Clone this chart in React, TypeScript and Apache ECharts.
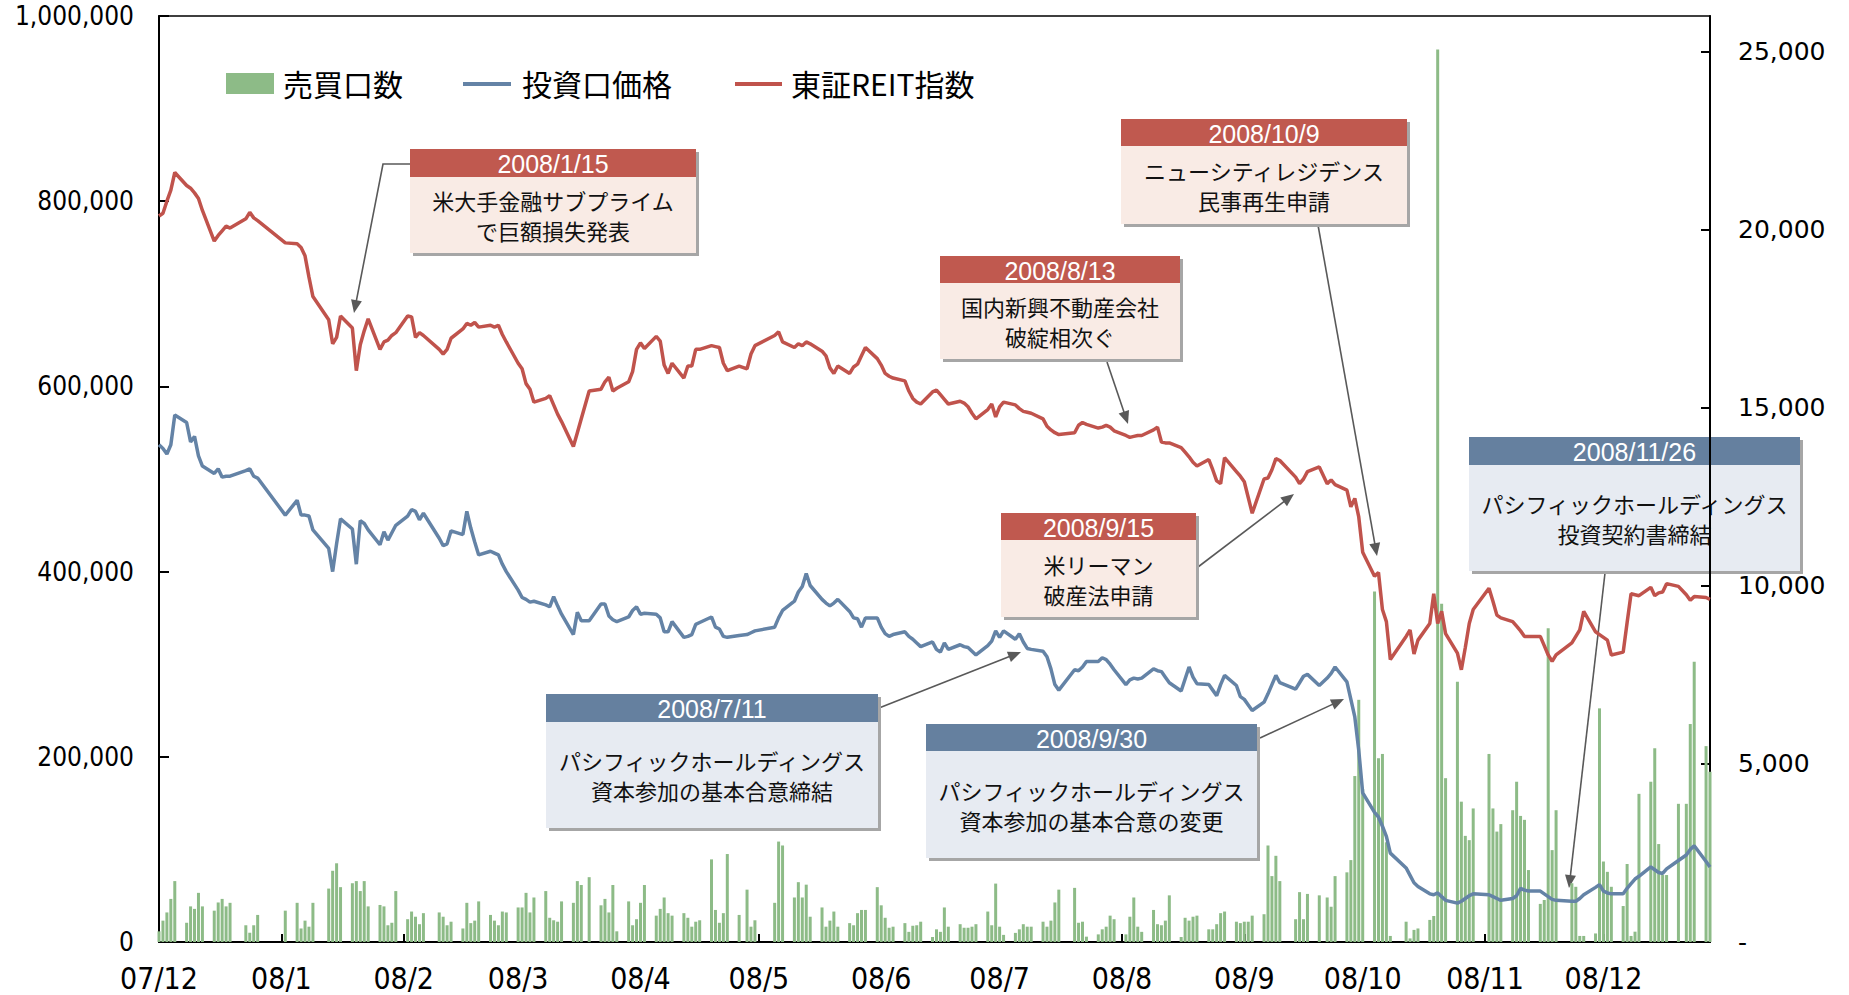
import React, { useEffect, useRef } from "react";
import * as echarts from "echarts";

// ---- trading days (TSE), per month: [year, monthIndex, days] ----
const tradingDays: [number, number, number[]][] = [
  [2007, 11, [3, 4, 5, 6, 7, 10, 11, 12, 13, 14, 17, 18, 19, 20, 21, 25, 26, 27, 28]],
  [2008, 0, [4, 7, 8, 9, 10, 11, 15, 16, 17, 18, 21, 22, 23, 24, 25, 28, 29, 30, 31]],
  [2008, 1, [1, 4, 5, 6, 7, 8, 12, 13, 14, 15, 18, 19, 20, 21, 22, 25, 26, 27, 28, 29]],
  [2008, 2, [3, 4, 5, 6, 7, 10, 11, 12, 13, 14, 17, 18, 19, 21, 24, 25, 26, 27, 28, 31]],
  [2008, 3, [1, 2, 3, 4, 7, 8, 9, 10, 11, 14, 15, 16, 17, 18, 21, 22, 23, 24, 25, 28, 30]],
  [2008, 4, [1, 2, 7, 8, 9, 12, 13, 14, 15, 16, 19, 20, 21, 22, 23, 26, 27, 28, 29, 30]],
  [2008, 5, [2, 3, 4, 5, 6, 9, 10, 11, 12, 13, 16, 17, 18, 19, 20, 23, 24, 25, 26, 27, 30]],
  [2008, 6, [1, 2, 3, 4, 7, 8, 9, 10, 11, 14, 15, 16, 17, 18, 22, 23, 24, 25, 28, 29, 30, 31]],
  [2008, 7, [1, 4, 5, 6, 7, 8, 11, 12, 13, 14, 15, 18, 19, 20, 21, 22, 25, 26, 27, 28, 29]],
  [2008, 8, [1, 2, 3, 4, 5, 8, 9, 10, 11, 12, 16, 17, 18, 19, 22, 24, 25, 26, 29, 30]],
  [2008, 9, [1, 2, 3, 6, 7, 8, 9, 10, 14, 15, 16, 17, 20, 21, 22, 23, 24, 27, 28, 29, 30, 31]],
  [2008, 10, [4, 5, 6, 7, 10, 11, 12, 13, 14, 17, 18, 19, 20, 21, 25, 26, 27, 28]],
  [2008, 11, [1, 2, 3, 4, 5, 8, 9, 10, 11, 12, 15, 16, 17, 18, 19, 22, 24, 25, 26, 29, 30]],
];

// month tick positions (Excel date axis: a tick every month from the 3rd)
const monthTicks: [number, number][] = [
  [2007, 11], [2008, 0], [2008, 1], [2008, 2], [2008, 3], [2008, 4], [2008, 5],
  [2008, 6], [2008, 7], [2008, 8], [2008, 9], [2008, 10], [2008, 11],
];

// 投資口価格 (千円)
const price: number[] = [
  537, 533, 527, 537, 569, 561, 540, 546, 525, 514, 506, 511, 502, 503, 503, 509, 511, 503, 501,
  461, 477, 461, 461, 460, 445, 425, 400, 430, 457, 446, 408, 455, 452, 445, 429, 443, 434, 442,
  450, 460, 467, 465, 456, 463, 436, 428, 430, 444, 440, 465, 447, 432, 418, 422, 420, 418, 408, 400,
  380, 372, 370, 367, 368, 364, 362, 373, 363, 354, 332, 356, 347, 347, 365, 365, 352, 348, 346, 351,
  358, 362, 354, 355, 354, 350, 335, 335, 346, 329, 330, 332, 343, 345, 351, 340, 338, 330, 329, 331, 332,
  334, 336, 340, 350, 358, 368, 378, 384, 398, 385, 370, 366, 363, 366, 370, 357, 350, 349, 340, 350,
  350, 340, 333, 330, 332, 335, 330, 327, 323, 319, 324, 316, 313, 323, 316, 321, 319, 318, 314, 310, 320,
  325, 336, 329, 336, 327, 333, 324, 317, 316, 314, 308, 295, 278, 272, 294, 293, 297, 303, 303, 307, 305, 300,
  294, 278, 283, 285, 284, 285, 295, 293, 292, 286, 280, 271, 284, 297, 286, 279, 278, 272, 266, 278, 288,
  277, 265, 262, 256, 250, 259, 268, 278, 288, 280, 273, 280, 287, 289, 277, 285, 290, 297, 281, 262,
  243, 207, 161, 140, 135, 125, 114, 96, 80, 72, 64, 60, 52, 51, 53, 49, 45, 42, 44, 47, 50, 52,
  51, 49, 47, 45, 47, 50, 58, 56, 55, 55, 52, 49, 46, 45, 44, 44, 47, 51,
  59, 62, 55, 53, 52, 52, 58, 63, 68, 71, 81, 78, 75, 74, 79, 88, 94, 100, 104, 87, 81,
];

// 東証REIT指数 (drawn on the left scale, 千)
const reit: number[] = [
  784, 787, 800, 812, 831, 817, 814, 809, 803, 790, 757, 763, 768, 773, 771, 781, 788, 782, 779,
  755, 754, 750, 741, 718, 697, 672, 646, 653, 676, 663, 617, 645, 660, 673, 640, 648, 650, 655,
  658, 676, 675, 653, 658, 655, 640, 635, 640, 652, 662, 668, 666, 669, 664, 666, 664, 666, 656, 648,
  625, 619, 603, 597, 583, 587, 590, 580, 570, 562, 535, 550, 565, 595, 597, 605, 610, 595, 598, 605,
  616, 640, 647, 641, 654, 649, 623, 614, 625, 609, 622, 622, 640, 640, 644, 643, 642, 625, 617, 622, 619,
  635, 644, 655, 659, 648, 642, 646, 644, 648, 646, 638, 633, 620, 614, 622, 614, 621, 624, 633, 642,
  630, 623, 614, 611, 609, 606, 595, 587, 583, 581, 594, 596, 591, 586, 581, 584, 582, 578, 571, 565, 575,
  581, 567, 578, 583, 580, 576, 573, 572, 571, 565, 557, 553, 550, 548, 550, 558, 561, 559, 555, 556, 558, 556,
  552, 547, 545, 546, 547, 547, 553, 556, 540, 539, 539, 534, 529, 524, 518, 514, 521, 510, 498, 495, 523,
  508, 503, 497, 480, 463, 500, 501, 510, 522, 520, 502, 495, 500, 508, 513, 495, 499, 494, 488, 470,
  479, 459, 421, 395, 399, 359, 346, 305, 330, 337, 311, 326, 344, 376, 344, 357, 333, 312, 294, 318, 344, 359,
  382, 368, 353, 350, 346, 341, 336, 330, 330, 330, 320, 310, 303, 310, 323, 330, 337, 357,
  335, 332, 329, 326, 310, 313, 345, 376, 375, 374, 383, 374, 377, 378, 387, 384, 375, 369, 373, 372, 370,
];

// 売買口数 (口)
const volume: number[] = [
  300, 600, 830, 1210, 1710, 540, 1000, 930, 1380, 1000, 880, 1110, 1210, 1000, 1100, 470, 260, 470, 760,
  880, 1100, 380, 600, 430, 1100, 1500, 2000, 2210, 1540, 1650, 1710, 1430, 1710, 1000, 1040, 1000, 470, 540,
  1430, 640, 855, 710, 500, 810, 830, 710, 470, 570, 380, 1100, 530, 600, 1140, 760, 600, 470, 855, 830,
  970, 970, 1380, 830, 1250, 1430, 680, 610, 570, 1140, 1100, 1710, 1600, 1820, 1030, 1210, 830, 1600, 300, 1140,
  470, 640, 1100, 1600, 740, 930, 1250, 810, 740, 810, 680, 430, 570, 610, 2320, 900, 540, 810, 2470, 760, 1470,
  430, 610, 1100, 2820, 2710, 1250, 1680, 1250, 1610, 710, 970, 430, 600, 855, 430, 530, 470, 810, 900, 900,
  1540, 1030, 680, 400, 430, 530, 285, 456, 470, 570, 140, 356, 285, 970, 430, 500, 400, 400, 430, 500, 855,
  470, 1640, 430, 200, 256, 356, 500, 430, 430, 570, 430, 600, 1110, 1470, 1520, 540, 570, 150, 214, 356, 430, 740,
  640, 214, 710, 1250, 430, 285, 900, 500, 470, 600, 1310, 140, 680, 600, 710, 740, 356, 356, 500, 810, 855,
  570, 530, 570, 570, 740, 780, 2710, 1850, 2420, 1710, 640, 1400, 640, 1350, 1310, 1250, 990, 1850, 1956, 2300,
  4660, 6800, 4300, 9840, 5160, 5280, 2800, 170, 570, 100, 340, 380, 620, 730, 25060, 9500, 4600, 7310, 3940, 2980, 2860, 3750,
  5280, 3750, 3100, 3310, 3700, 4500, 3540, 3430, 2020, 1070, 1180, 8810, 2580, 3700, 1650, 1550, 170, 170,
  240, 6560, 2260, 1970, 1550, 1010, 2190, 170, 290, 4160, 4500, 5440, 2750, 1880, 1880, 3880, 3880, 6120, 7870, 5500, 4780,
];

const legendNames = ["売買口数", "投資口価格", "東証REIT指数"];

type Note = { date: string; lines: string[]; kind: "red" | "blue"; x: number; y: number; w: number; hh: number; bh: number };
const notes: Note[] = [
  { date: "2008/1/15", lines: ["米大手金融サブプライム", "で巨額損失発表"], kind: "red", x: 410, y: 149, w: 286, hh: 28, bh: 76 },
  { date: "2008/10/9", lines: ["ニューシティレジデンス", "民事再生申請"], kind: "red", x: 1121, y: 119, w: 286, hh: 27, bh: 78 },
  { date: "2008/8/13", lines: ["国内新興不動産会社", "破綻相次ぐ"], kind: "red", x: 940, y: 256, w: 240, hh: 27, bh: 76 },
  { date: "2008/9/15", lines: ["米リーマン", "破産法申請"], kind: "red", x: 1001, y: 513, w: 195, hh: 27, bh: 77 },
  { date: "2008/11/26", lines: ["パシフィックホールディングス", "投資契約書締結"], kind: "blue", x: 1469, y: 437, w: 331, hh: 28, bh: 106 },
  { date: "2008/7/11", lines: ["パシフィックホールディングス", "資本参加の基本合意締結"], kind: "blue", x: 546, y: 694, w: 332, hh: 28, bh: 106 },
  { date: "2008/9/30", lines: ["パシフィックホールディングス", "資本参加の基本合意の変更"], kind: "blue", x: 926, y: 724, w: 331, hh: 27, bh: 107 },
];
const arrows: number[][][] = [
  [[410, 164], [383, 164], [354, 313]],
  [[1318, 225], [1377, 556]],
  [[1107, 362], [1128, 424]],
  [[1198, 567], [1294, 494]],
  [[1605, 573], [1569, 888]],
  [[879, 708], [1021, 652]],
  [[1260, 738], [1344, 699]],
];

const C_GREEN = "#8DBB87";
const C_BLUE = "#6483A6";
const C_RED = "#C0534C";
const NARROW = "'Liberation Sans Narrow', 'DejaVu Sans Condensed', 'Arial Narrow', 'Liberation Sans', sans-serif";
const JP = "'Noto Sans CJK JP', 'Noto Sans', sans-serif";
const DAY = 86400000;

function noteGraphic(n: Note) {
  const head = n.kind === "red" ? "#C0594F" : "#65809F";
  const body = n.kind === "red" ? "#F9EBE5" : "#E7EBF2";
  const H = n.hh + n.bh;
  return {
    type: "group",
    z: 100,
    children: [
      { type: "rect", shape: { x: n.x + 3, y: n.y + 3, width: n.w, height: H }, style: { fill: "#A6A6A6" } },
      { type: "rect", shape: { x: n.x, y: n.y + n.hh, width: n.w, height: n.bh }, style: { fill: body } },
      { type: "rect", shape: { x: n.x, y: n.y, width: n.w, height: n.hh }, style: { fill: head } },
      {
        type: "text",
        x: n.x + n.w / 2,
        y: n.y + n.hh / 2 + 1,
        style: { text: n.date, fill: "#fff", font: "25px 'Liberation Sans', Arial, sans-serif", align: "center", verticalAlign: "middle" },
      },
      {
        type: "text",
        x: n.x + n.w / 2,
        y: n.y + n.hh + n.bh / 2,
        style: { text: n.lines.join("\n"), fill: "#111", font: `22px ${JP}`, align: "center", verticalAlign: "middle", lineHeight: 30 },
      },
    ],
  };
}

function arrowGraphic(pts: number[][]) {
  const [x1, y1] = pts[pts.length - 2];
  const [x2, y2] = pts[pts.length - 1];
  const ang = Math.atan2(y2 - y1, x2 - x1);
  const L = 13, W = 5.5;
  const bx = x2 - L * Math.cos(ang), by = y2 - L * Math.sin(ang);
  const px = -Math.sin(ang) * W, py = Math.cos(ang) * W;
  const linePts = pts.slice(0, -1).concat([[bx + 2 * Math.cos(ang), by + 2 * Math.sin(ang)]]);
  return {
    type: "group",
    z: 99,
    children: [
      { type: "polyline", shape: { points: linePts }, style: { stroke: "#595959", lineWidth: 1.6, fill: null } },
      { type: "polygon", shape: { points: [[x2, y2], [bx + px, by + py], [bx - px, by - py]] }, style: { fill: "#595959" } },
    ],
  };
}

export default function App() {
  const ref = useRef<HTMLDivElement>(null);
  useEffect(() => {
    if (!ref.current) return;
    const chart = echarts.init(ref.current, undefined, { renderer: "svg" });
    const t0 = Date.UTC(2007, 11, 3);
    const dayOf = (y: number, m: number, d: number) => Math.round((Date.UTC(y, m, d) - t0) / DAY);
    const days: number[] = [];
    tradingDays.forEach(([y, m, ds]) => ds.forEach((d) => days.push(dayOf(y, m, d))));
    const tickVals = monthTicks.map(([y, m]) => dayOf(y, m, 3));
    const xMin = days[0];
    const xMax = days[days.length - 1];
    const fmtNum = (v: number) => Math.round(v).toLocaleString("en-US");

    const graphic: any[] = [
      { type: "rect", shape: { x: 226, y: 73, width: 48, height: 21 }, style: { fill: C_GREEN } },
      { type: "text", x: 283, y: 83, style: { text: legendNames[0], font: `30px ${JP}`, fill: "#000", verticalAlign: "middle" } },
      { type: "line", shape: { x1: 463, y1: 84, x2: 511, y2: 84 }, style: { stroke: C_BLUE, lineWidth: 4 } },
      { type: "text", x: 522, y: 83, style: { text: legendNames[1], font: `30px ${JP}`, fill: "#000", verticalAlign: "middle" } },
      { type: "line", shape: { x1: 735, y1: 84, x2: 782, y2: 84 }, style: { stroke: C_RED, lineWidth: 4 } },
      { type: "text", x: 791, y: 83, style: { text: legendNames[2], font: `30px ${JP}`, fill: "#000", verticalAlign: "middle" } },
      ...arrows.map(arrowGraphic),
      ...notes.map(noteGraphic),
    ];

    chart.setOption({
      animation: false,
      grid: {
        left: 159,
        right: 139,
        top: 16,
        bottom: 53,
        containLabel: false,
        outerBoundsMode: "none",
        show: true,
        borderColor: "#000",
        borderWidth: 1.5,
        backgroundColor: "transparent",
      },
      xAxis: {
        type: "value",
        min: xMin,
        max: xMax,
        axisLine: { show: true, lineStyle: { color: "#000", width: 2 } },
        axisTick: { show: true, inside: true, length: 8, lineStyle: { color: "#000", width: 2 }, customValues: tickVals },
        axisLabel: {
          customValues: tickVals,
          color: "#000",
          fontSize: 30,
          fontFamily: NARROW,
          margin: 21,
          formatter: (v: number) => {
            const d = new Date(t0 + v * DAY);
            return `${String(d.getUTCFullYear() % 100).padStart(2, "0")}/${d.getUTCMonth() + 1}`;
          },
        },
        splitLine: { show: false },
      },
      yAxis: [
        {
          type: "value",
          min: 0,
          max: 1000000,
          interval: 200000,
          position: "left",
          axisLine: { show: true, lineStyle: { color: "#000", width: 2 } },
          axisTick: { show: true, inside: true, length: 10, lineStyle: { color: "#000", width: 2 } },
          axisLabel: { color: "#000", fontSize: 26, fontFamily: NARROW, margin: 25, formatter: fmtNum },
          splitLine: { show: false },
        },
        {
          type: "value",
          min: 0,
          max: 26000,
          interval: 5000,
          position: "right",
          axisLine: { show: true, lineStyle: { color: "#000", width: 2 } },
          axisTick: { show: true, inside: true, length: 9, lineStyle: { color: "#000", width: 2 } },
          axisLabel: {
            color: "#000",
            fontSize: 25,
            fontFamily: "'DejaVu Sans', sans-serif",
            margin: 28,
            showMaxLabel: false,
            formatter: (v: number) => (v === 0 ? "-" : v > 25000 ? "" : fmtNum(v)),
          },
          splitLine: { show: false },
        },
      ],
      series: [
        {
          name: legendNames[0],
          type: "bar",
          yAxisIndex: 1,
          barWidth: 3,
          itemStyle: { color: C_GREEN },
          data: days.map((t, i) => [t, volume[i]]),
          z: 1,
        },
        {
          name: legendNames[1],
          type: "line",
          yAxisIndex: 0,
          symbol: "none",
          lineStyle: { color: C_BLUE, width: 3.5 },
          itemStyle: { color: C_BLUE },
          data: days.map((t, i) => [t, price[i] * 1000]),
          z: 3,
        },
        {
          name: legendNames[2],
          type: "line",
          yAxisIndex: 0,
          symbol: "none",
          lineStyle: { color: C_RED, width: 3.5 },
          itemStyle: { color: C_RED },
          data: days.map((t, i) => [t, reit[i] * 1000]),
          z: 3,
        },
      ],
      graphic,
    });
    return () => chart.dispose();
  }, []);
  return <div ref={ref} style={{ position: "fixed", left: 0, top: 0, width: 1849, height: 995, background: "#fff" }} />;
}
